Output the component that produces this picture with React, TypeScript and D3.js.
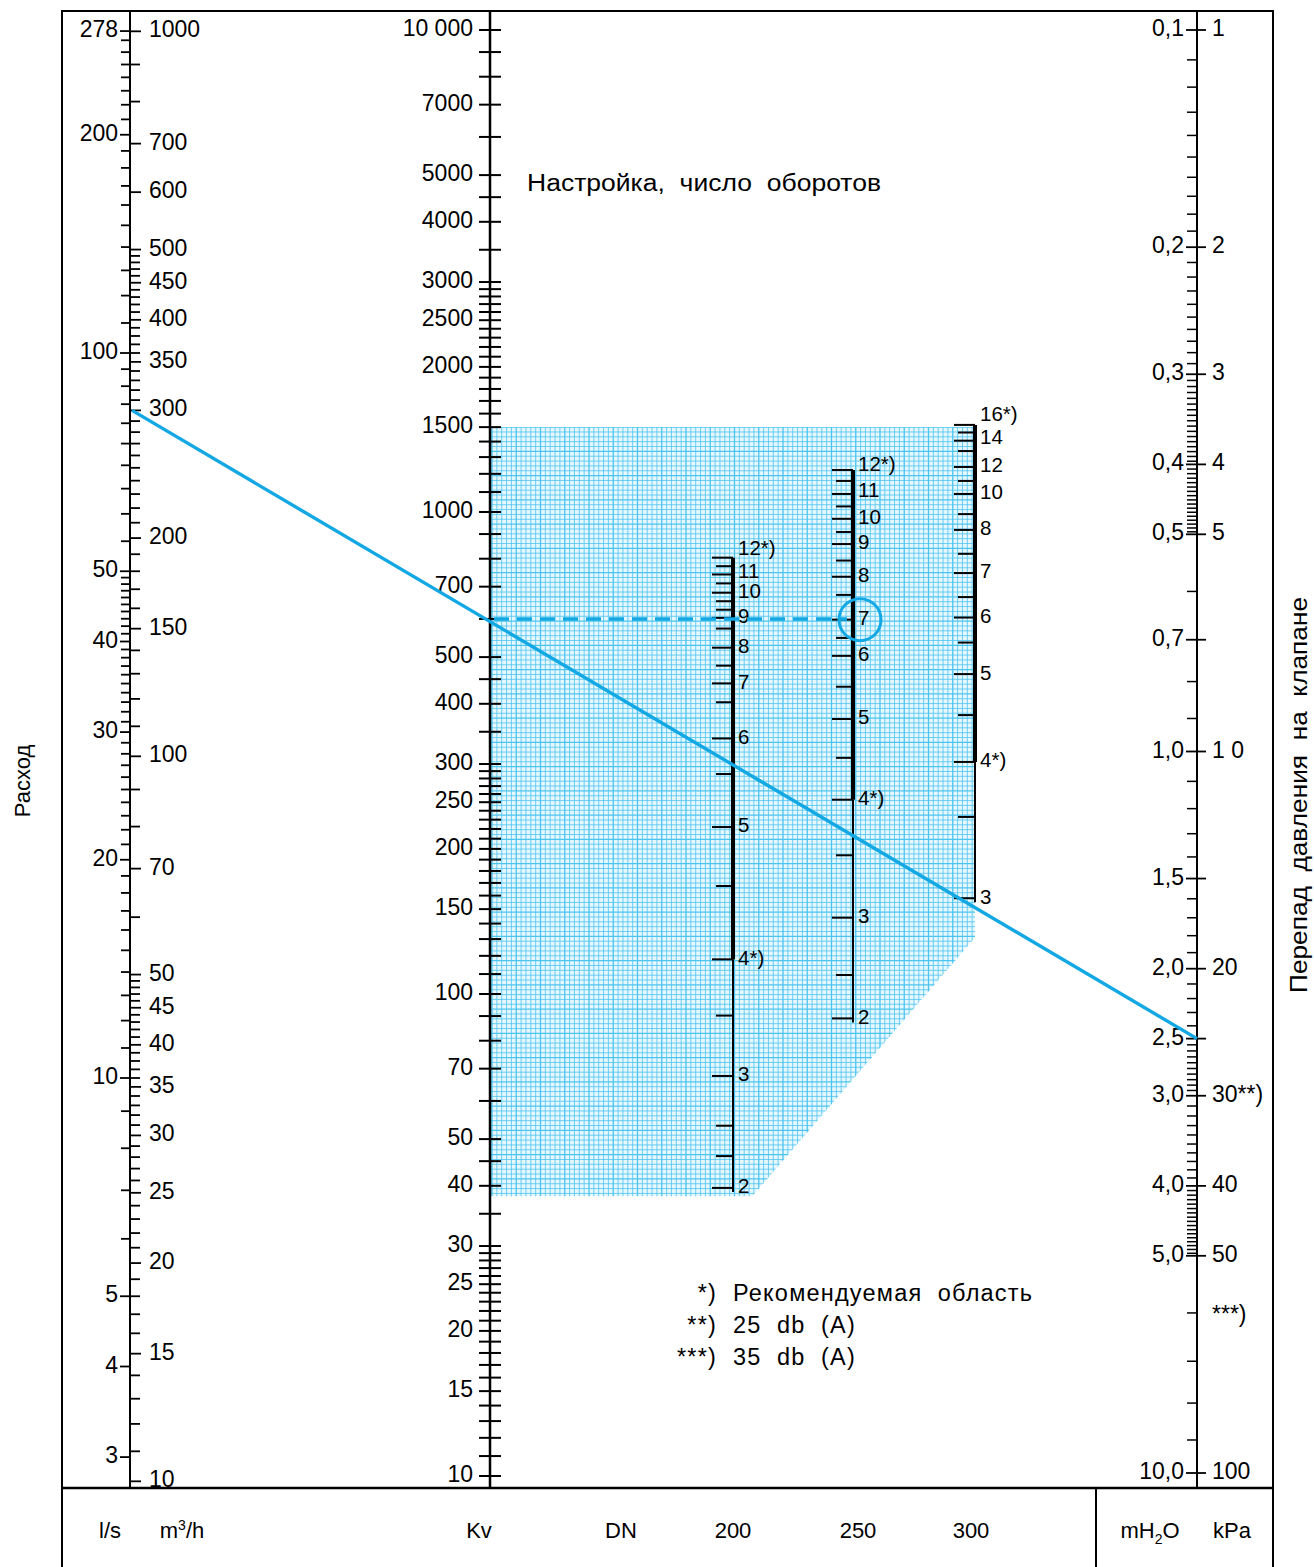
import React from 'react';
import * as d3 from 'd3';

const W = 1314, H = 1567;
const FONT = '"Liberation Sans", Arial, Helvetica, sans-serif';
const BLUE = '#13a8e3';
const GRID = '#4cc4f0';

// flow, l/s (left side of the first scale)
const lsLabels = [278, 200, 100, 50, 40, 30, 20, 10, 5, 4, 3];
const lsMinor = [6, 7, 8, 9, ...d3.range(11, 50, 1), ...d3.range(55, 100, 5), ...d3.range(110, 200, 10), ...d3.range(210, 280, 10)]
  .filter(v => !lsLabels.includes(v));

// flow, m3/h (right side of the first scale)
const m3hLabels = [1000, 700, 600, 500, 450, 400, 350, 300, 200, 150, 100, 70, 50, 45, 40, 35, 30, 25, 20, 15, 10];
const m3hMinor = [...d3.range(11, 50, 1), 60, 80, 90, ...d3.range(110, 200, 10), ...d3.range(210, 500, 10), 800, 900]
  .filter(v => !m3hLabels.includes(v));

// Kv
const kvLabels = [10000, 7000, 5000, 4000, 3000, 2500, 2000, 1500, 1000, 700, 500, 400, 300, 250, 200, 150, 100, 70, 50, 40, 30, 25, 20, 15, 10];
const kvMinor = [9000, 8000, 6000, 4500, 3500, ...d3.range(1100, 3000, 100), 900, 800, 600, 450, 350,
  ...d3.range(110, 300, 10), 90, 80, 60, 45, 35, ...d3.range(11, 30, 1)]
  .filter(v => !kvLabels.includes(v));

// pressure drop, mH2O (left) and kPa (right)
const dpLabels = [0.1, 0.2, 0.3, 0.4, 0.5, 0.7, 1.0, 1.5, 2.0, 2.5, 3.0, 4.0, 5.0, 10.0];
const dpMinor = [...d3.range(0.11, 0.195, 0.01), ...d3.range(0.21, 0.295, 0.01),
  ...d3.range(0.306, 0.398, 0.006), ...d3.range(0.406, 0.498, 0.006),
  0.6, 0.8, 0.9, 1.1, 1.2, 1.3, 1.4, 1.6, 1.7, 1.8, 1.9, 2.1, 2.2, 2.3, 2.4,
  ...d3.range(2.55, 2.98, 0.05), ...d3.range(3.1, 3.95, 0.1), ...d3.range(4.06, 4.98, 0.06), 6, 7, 8, 9];
const kpaValues = [1, 2, 3, 4, 5, 10, 20, 30, 40, 50, 60, 100];
const kpaTexts = ['1', '2', '3', '4', '5', '1\u00a00', '20', '30**)', '40', '50', '***)', '100'];

// valve settings (turns) and the Kv they give, per DN
const dn200Turns = ['12*)', '11', '10', '9', '8', '7', '6', '5', '4*)', '3', '2'];
const dn200Kv = [804, 742, 680, 603, 523, 441, 339, 222, 118, 67.6, 39.6];
const dn200MinorKv = [772, 711, 653, 627, 573, 480, 403, 286, 167.5, 90.2, 53.3, 46.1];
const dn250Turns = ['12*)', '11', '10', '9', '8', '7', '6', '5', '4*)', '3', '2'];
const dn250Kv = [1222, 1090, 968, 858, 734, 598, 503, 372, 253, 144, 89];
const dn250MinorKv = [1160, 1027, 909, 793, 673, 548, 434, 309, 194, 109.5];
const dn300Turns = ['16*)', '14', '12', '10', '8', '7', '6', '5', '4*)', '3'];
const dn300Kv = [1516, 1406, 1240, 1090, 918, 747, 604, 461, 303, 158];
const dn300MinorKv = [1462, 1338, 1160, 990, 819, 666, 536, 379, 233];

// legend
const legendMarks = ['*)', '**)', '***)'];
const legendTexts = ['Рекомендуемая\u00a0\u00a0область', '25\u00a0\u00a0db\u00a0\u00a0(A)', '35\u00a0\u00a0db\u00a0\u00a0(A)'];

// worked example: 300 m3/h at 2.5 mH2O -> Kv 600 -> DN250, 7 turns
const exampleFlowM3h = 300;
const exampleDp = 2.5;
const exampleKv = 600;
const exampleTurnKv = 598;

// shaded working area on the Kv scale
const areaTopKv = 1500;
const areaBottomKv = 38;
const areaCornerKv = 131;

const flowScale = d3.scaleLog().domain([10, 100]).range([1078, 353]); // l/s
const m3h = (v: number) => flowScale(v / 3.6);
const kvScale = d3.scaleLog().domain([10, 10000]).range([1476, 30]);
const dpScale = d3.scaleLog().domain([0.1, 10]).range([30, 1473]);

const X_FLOW = 130, X_KV = 490, X_DP = 1197;
const FRAME = { l: 62, t: 11, r: 1273, b: 1567, row: 1488, div: 1096 };

const NUM = 23;

function DnScale({ x, turns, kv, minor, topDy }: { x: number; turns: string[]; kv: number[]; minor: number[]; topDy: number }) {
  const yTop = kvScale(kv[0]);
  const yBot = kvScale(kv[kv.length - 1]);
  const rec = turns.findIndex(t => t === '4*)');
  const yRec = kvScale(kv[rec]);
  return (
    <g>
      <line x1={x} x2={x} y1={yTop} y2={yRec} stroke="#000" strokeWidth={4} />
      <line x1={x} x2={x} y1={yRec} y2={yBot + 4} stroke="#000" strokeWidth={2} />
      {kv.map((v, i) => (
        <g key={'l' + i}>
          <line x1={x - 21} x2={x} y1={kvScale(v)} y2={kvScale(v)} stroke="#000" strokeWidth={2} />
          <text x={x + 5} y={kvScale(v) + (i === 0 ? topDy : i === 1 ? -2 : 0)} fontSize={20.5} dominantBaseline="middle">{turns[i]}</text>
        </g>
      ))}
      {minor.map((v, i) => (
        <line key={'m' + i} x1={x - 17} x2={x} y1={kvScale(v)} y2={kvScale(v)} stroke="#000" strokeWidth={2} />
      ))}
    </g>
  );
}

export default function App() {
  const gx0 = X_KV, gx1 = 975;
  const gyTop = kvScale(areaTopKv), gyBot = kvScale(areaBottomKv), gyCorner = kvScale(areaCornerKv);
  const poly = [[gx0, gyTop], [gx1, gyTop], [gx1, gyCorner], [752, gyBot], [gx0, gyBot]].map(p => p.join(',')).join(' ');
  const step = 4.85;
  const vLines = d3.range(gx0 + 2, gx1 + 1, step);
  const hLines = d3.range(gyTop, gyBot + 1, step);

  const fmtDp = (v: number) => d3.format('.1f')(v).replace('.', ',');
  const fmtKv = (v: number) => (v >= 10000 ? '10\u00a0000' : String(v));

  const yQ = m3h(exampleFlowM3h);
  const yP = dpScale(exampleDp);
  const yKv = kvScale(exampleKv);

  return (
    <svg width={W} height={H} style={{ position: 'absolute', left: 0, top: 0 }} fontFamily={FONT} fill="#000">
      <rect x={0} y={0} width={W} height={H} fill="#fff" />
      <defs>
        <clipPath id="gridClip"><polygon points={poly} /></clipPath>
      </defs>

      {/* graph-paper area */}
      <g clipPath="url(#gridClip)">
        <polygon points={poly} fill="#e6f7fd" />
        {vLines.map((x, i) => (
          <line key={'v' + i} x1={x} x2={x} y1={gyTop} y2={gyBot} stroke={GRID} strokeWidth={i % 5 === 0 ? 1.3 : 0.8} />
        ))}
        {hLines.map((y, i) => (
          <line key={'h' + i} x1={gx0} x2={gx1} y1={y} y2={y} stroke={GRID} strokeWidth={i % 5 === 0 ? 1.3 : 0.8} />
        ))}
      </g>

      {/* frame */}
      <rect x={FRAME.l} y={FRAME.t} width={FRAME.r - FRAME.l} height={FRAME.b - FRAME.t + 10} fill="none" stroke="#000" strokeWidth={2} />
      <line x1={FRAME.l} x2={FRAME.r} y1={FRAME.row} y2={FRAME.row} stroke="#000" strokeWidth={2.5} />
      <line x1={FRAME.div} x2={FRAME.div} y1={FRAME.row} y2={FRAME.b + 5} stroke="#000" strokeWidth={2} />

      {/* flow scale */}
      <line x1={X_FLOW} x2={X_FLOW} y1={FRAME.t} y2={FRAME.row} stroke="#000" strokeWidth={2} />
      {lsMinor.map((v, i) => (
        <line key={'lm' + i} x1={X_FLOW - 9} x2={X_FLOW} y1={flowScale(v)} y2={flowScale(v)} stroke="#000" strokeWidth={1.8} />
      ))}
      {lsLabels.map((v, i) => (
        <g key={'ll' + i}>
          <line x1={X_FLOW - 10} x2={X_FLOW} y1={flowScale(v)} y2={flowScale(v)} stroke="#000" strokeWidth={1.8} />
          <text x={X_FLOW - 12} y={flowScale(v)} fontSize={NUM} textAnchor="end" dominantBaseline="middle">{v}</text>
        </g>
      ))}
      {m3hMinor.map((v, i) => (
        <line key={'mm' + i} x1={X_FLOW} x2={X_FLOW + 10} y1={m3h(v)} y2={m3h(v)} stroke="#000" strokeWidth={1.8} />
      ))}
      {m3hLabels.map((v, i) => (
        <g key={'ml' + i}>
          <line x1={X_FLOW} x2={X_FLOW + 11} y1={m3h(v)} y2={m3h(v)} stroke="#000" strokeWidth={1.8} />
          <text x={X_FLOW + 19} y={m3h(v)} fontSize={NUM} dominantBaseline="middle">{v}</text>
        </g>
      ))}

      {/* Kv scale */}
      <line x1={X_KV} x2={X_KV} y1={FRAME.t} y2={FRAME.row} stroke="#000" strokeWidth={2.5} />
      {kvMinor.map((v, i) => (
        <line key={'km' + i} x1={X_KV - 11} x2={X_KV + 11} y1={kvScale(v)} y2={kvScale(v)} stroke="#000" strokeWidth={2} />
      ))}
      {kvLabels.map((v, i) => (
        <g key={'kl' + i}>
          <line x1={X_KV - 11} x2={X_KV + 11} y1={kvScale(v)} y2={kvScale(v)} stroke="#000" strokeWidth={2} />
          <text x={X_KV - 17} y={kvScale(v)} fontSize={NUM} textAnchor="end" dominantBaseline="middle">{fmtKv(v)}</text>
        </g>
      ))}

      {/* pressure drop scale */}
      <line x1={X_DP} x2={X_DP} y1={FRAME.t} y2={FRAME.row} stroke="#000" strokeWidth={2} />
      {dpMinor.map((v, i) => (
        <line key={'pm' + i} x1={X_DP - 10} x2={X_DP} y1={dpScale(v)} y2={dpScale(v)} stroke="#000" strokeWidth={1.5} />
      ))}
      {dpLabels.map((v, i) => (
        <g key={'pl' + i}>
          <line x1={X_DP - 11} x2={X_DP + 9} y1={dpScale(v)} y2={dpScale(v)} stroke="#000" strokeWidth={1.8} />
          <text x={X_DP - 13} y={dpScale(v)} fontSize={NUM} textAnchor="end" dominantBaseline="middle">{fmtDp(v)}</text>
        </g>
      ))}
      {kpaValues.map((v, i) => (
        <text key={'kp' + i} x={X_DP + 15} y={dpScale(v / 10) + (v === 60 ? 3 : 0)} fontSize={NUM} dominantBaseline="middle">{kpaTexts[i]}</text>
      ))}

      {/* DN scales */}
      <DnScale x={733} turns={dn200Turns} kv={dn200Kv} minor={dn200MinorKv} topDy={-8} />
      <DnScale x={853} turns={dn250Turns} kv={dn250Kv} minor={dn250MinorKv} topDy={-4} />
      <DnScale x={975} turns={dn300Turns} kv={dn300Kv} minor={dn300MinorKv} topDy={-9} />

      {/* worked example */}
      <line x1={X_FLOW + 2} y1={yQ} x2={X_DP} y2={yP} stroke={BLUE} strokeWidth={3.4} />
      <line x1={X_KV + 4} x2={853 - 6} y1={yKv} y2={yKv} stroke={BLUE} strokeWidth={3.4} strokeDasharray="15 8" />
      <circle cx={860} cy={kvScale(exampleTurnKv)} r={21} fill="none" stroke={BLUE} strokeWidth={3} />

      {/* titles */}
      <text x={527} y={191} fontSize={23} textLength={354} lengthAdjust="spacingAndGlyphs">{'Настройка,\u00a0\u00a0число\u00a0\u00a0оборотов'}</text>
      <text transform="translate(30,781) rotate(-90)" fontSize={22} textAnchor="middle">Расход</text>
      <text transform="translate(1307,795) rotate(-90)" fontSize={23} textAnchor="middle" textLength={396} lengthAdjust="spacingAndGlyphs">{'Перепад\u00a0\u00a0давления\u00a0\u00a0на\u00a0\u00a0клапане'}</text>

      {/* legend */}
      <g fontSize={23.5} letterSpacing={1.2}>
        {legendMarks.map((m, i) => (
          <g key={'lg' + i}>
            <text x={717} y={1301 + i * 32} textAnchor="end">{m}</text>
            <text x={733} y={1301 + i * 32}>{legendTexts[i]}</text>
          </g>
        ))}
      </g>

      {/* unit row */}
      <g fontSize={22} textAnchor="middle">
        <text x={110} y={1538}>l/s</text>
        <text x={182} y={1538}>m<tspan dy={-8} fontSize={14}>3</tspan><tspan dy={8}>/h</tspan></text>
        <text x={479} y={1538}>Kv</text>
        <text x={621} y={1538}>DN</text>
        <text x={733} y={1538}>200</text>
        <text x={858} y={1538}>250</text>
        <text x={971} y={1538}>300</text>
        <text x={1150} y={1538}>mH<tspan dy={6} fontSize={14}>2</tspan><tspan dy={-6}>O</tspan></text>
        <text x={1232} y={1538}>kPa</text>
      </g>
    </svg>
  );
}
